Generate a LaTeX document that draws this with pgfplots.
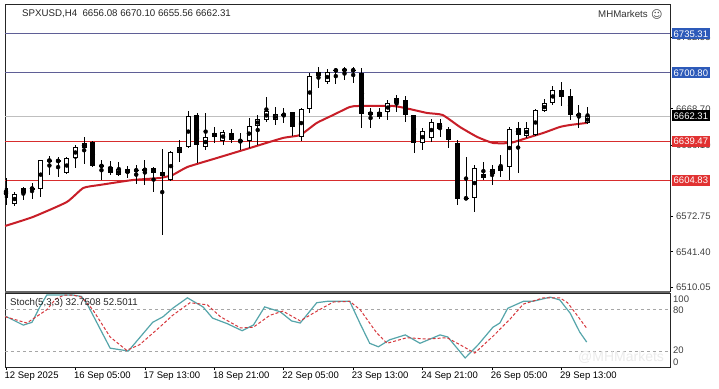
\documentclass[border=0pt]{standalone}
\usepackage{fontspec}
\setmainfont{Liberation Sans}
\newfontfamily\dejavu{DejaVu Sans}
\usepackage{pgfplots}
\usepackage{pgfplotstable}
\pgfplotsset{compat=1.18}
\definecolor{mared}{RGB}{200,30,40}
\definecolor{lvred}{RGB}{215,45,45}
\definecolor{lvblue}{RGB}{95,95,150}
\definecolor{boxblue}{RGB}{45,90,185}
\definecolor{boxred}{RGB}{225,50,50}
\definecolor{stteal}{RGB}{85,165,170}
\definecolor{stred}{RGB}{215,55,60}

\pgfplotstableread{
i o h l c
0 6598.2 6607.1 6583.1 6589.3
1 6584.0 6594.6 6582.2 6592.9
2 6593.7 6599.0 6587.5 6598.2
3 6597.3 6602.7 6588.4 6598.2
4 6597.3 6623.5 6590.2 6623.1
5 6622.2 6626.7 6609.8 6623.1
6 6622.2 6625.8 6608.0 6622.7
7 6611.6 6625.8 6610.7 6624.9
8 6624.9 6636.5 6616.0 6634.7
9 6633.8 6643.6 6620.0 6638.3
10 6639.2 6640.0 6616.9 6617.8
11 6617.8 6623.1 6605.3 6618.2
12 6616.9 6622.2 6609.8 6611.6
13 6609.8 6621.3 6608.9 6615.1
14 6615.1 6617.8 6607.1 6611.6
15 6613.8 6618.7 6601.8 6614.2
16 6614.0 6623.1 6600.9 6614.9
17 6616.0 6617.0 6594.6 6611.6
18 6612.4 6632.9 6556.4 6608.9
19 6605.3 6631.2 6604.4 6630.3
20 6629.4 6640.9 6621.3 6634.7
21 6634.7 6666.8 6633.8 6662.3
22 6663.2 6665.0 6620.5 6636.5
23 6634.7 6665.0 6632.0 6643.6
24 6643.6 6652.5 6638.3 6647.2
25 6640.0 6649.8 6636.5 6648.0
26 6647.2 6650.7 6638.3 6640.9
27 6640.5 6647.2 6632.0 6640.0
28 6640.0 6660.5 6633.8 6653.4
29 6653.4 6663.2 6636.5 6659.6
30 6658.7 6679.2 6657.0 6666.8
31 6658.7 6670.3 6654.3 6664.1
32 6663.6 6669.4 6656.1 6663.2
33 6665.9 6666.3 6644.5 6652.5
34 6643.6 6669.4 6640.0 6668.5
35 6668.5 6700.6 6665.0 6697.9
36 6697.9 6705.9 6687.2 6701.5
37 6692.6 6704.1 6690.8 6701.5
38 6702.8 6705.0 6690.8 6703.2
39 6704.1 6705.9 6694.4 6702.4
40 6703.0 6705.9 6691.7 6703.3
41 6700.6 6705.0 6651.6 6664.1
42 6663.2 6669.4 6651.6 6665.9
43 6661.4 6669.4 6659.6 6665.9
44 6665.9 6676.5 6658.7 6673.9
45 6673.9 6681.0 6665.9 6678.3
46 6676.5 6680.1 6657.0 6663.2
47 6663.2 6663.5 6629.4 6638.3
48 6638.3 6651.6 6632.0 6648.9
49 6642.7 6659.6 6639.1 6657.0
50 6656.1 6659.6 6643.6 6650.7
51 6650.7 6652.5 6633.8 6640.9
52 6638.3 6640.9 6583.1 6588.4
53 6588.8 6625.8 6587.5 6589.3
54 6589.3 6618.7 6576.8 6616.0
55 6607.1 6621.3 6605.3 6610.7
56 6610.7 6618.7 6600.9 6615.1
57 6613.3 6627.6 6608.0 6617.8
58 6616.9 6652.5 6605.3 6650.7
59 6651.6 6657.0 6611.6 6645.4
60 6644.5 6657.0 6642.7 6651.6
61 6645.4 6668.5 6644.5 6667.6
62 6666.8 6677.4 6665.9 6673.9
63 6673.9 6689.0 6672.1 6685.5
64 6685.5 6692.6 6671.2 6679.2
65 6680.1 6686.3 6658.7 6663.2
66 6663.2 6672.1 6651.6 6663.6
67 6656.08 6670.10 6655.56 6662.31
}\candles

\begin{document}
\begin{tikzpicture}
\useasboundingbox (0pt,0pt) rectangle (719pt,388pt);
\fill[white] (0pt,0pt) rectangle (719pt,388pt);

% ---------------- main price panel ----------------
\begin{axis}[
  name=main,
  at={(5pt,97pt)}, anchor=south west, scale only axis,
  width=665pt, height=287pt,
  xmin=-0.115, xmax=76.5, ymin=6506.5, ymax=6762.0,
  xtick=\empty,
  ytick={6510.05,6541.40,6572.75,6636.10,6668.70,6732.55},
  yticklabels={6510.05,6541.40,6572.75,6636.10,6668.70,6732.55},
  ytick pos=right, yticklabel pos=right,
  tick align=outside, major tick length=3pt,
  tick style={black, line width=0.6pt},
  yticklabel style={font=\fontsize{9.5}{10}\selectfont, text=black!75, inner sep=1pt, xshift=2pt},
  axis line style={black!85, line width=0.9pt},
  clip mode=individual,
]
% level lines
\addplot[lvblue, line width=1pt, forget plot] coordinates {(-0.115,6735.31) (76.5,6735.31)};
\addplot[lvblue, line width=1pt, forget plot] coordinates {(-0.115,6700.80) (76.5,6700.80)};
\addplot[black!25, line width=0.8pt, forget plot] coordinates {(-0.115,6662.31) (76.5,6662.31)};
\addplot[lvred, line width=1pt, forget plot] coordinates {(-0.115,6639.47) (76.5,6639.47)};
\addplot[lvred, line width=1pt, forget plot] coordinates {(-0.115,6604.83) (76.5,6604.83)};

% moving average
\addplot[mared, line width=2pt, smooth, tension=0.3] coordinates {
(-0.1,6564.4) (3.1,6572.4) (7.0,6585.7) (8.9,6598.2) (10.8,6600.9) (14.6,6605.3)
(17.7,6607.1) (19.2,6609.8) (20.9,6616.9) (24.3,6624.9) (28.1,6633.8) (31.9,6642.7)
(33.9,6645.4) (35.8,6656.1) (37.7,6663.2) (39.6,6670.3) (40.6,6671.2) (44.6,6671.2)
(46.5,6668.5) (48.5,6665.0) (50.3,6663.2) (52.3,6652.5) (54.3,6643.6) (56.1,6638.3)
(58.1,6638.3) (60.0,6642.7) (61.9,6647.2) (63.8,6652.5) (65.0,6654.3) (66.9,6656.1)};

% wicks
\addplot[only marks, mark=none, forget plot,
  error bars/.cd, y dir=both, y explicit, error mark=none,
  error bar style={black, line width=0.9pt}]
  table[x=i, y expr={(\thisrow{h}+\thisrow{l})/2}, y error expr={(\thisrow{h}-\thisrow{l})/2}] {\candles};
% bodies (outline / bearish fill)
\addplot[only marks, mark=none, forget plot,
  error bars/.cd, y dir=both, y explicit, error mark=none,
  error bar style={black, line width=5pt}]
  table[x=i, y expr={(\thisrow{o}+\thisrow{c})/2}, y error expr={max(abs(\thisrow{o}-\thisrow{c})/2,0.55)}] {\candles};
% bullish hollow interior
\addplot[only marks, mark=none, forget plot,
  error bars/.cd, y dir=both, y explicit, error mark=none,
  error bar style={white, line width=3pt}]
  table[x=i, y expr={(\thisrow{o}+\thisrow{c})/2}, y error expr={max((\thisrow{c}-\thisrow{o})/2-0.9,0)}] {\candles};

% price boxes
\tikzset{pbox/.style={anchor=west, inner xsep=1.5pt, inner ysep=1pt, text=white,
  font=\fontsize{9.5}{10}\selectfont, minimum height=11pt}}
\node[pbox, fill=boxblue, xshift=2pt] at (axis cs:76.5,6735.31) {6735.31};
\node[pbox, fill=boxblue, xshift=2pt] at (axis cs:76.5,6700.80) {6700.80};
\node[pbox, fill=black, xshift=2pt] at (axis cs:76.5,6662.31) {6662.31};
\node[pbox, fill=boxred, xshift=2pt] at (axis cs:76.5,6639.47) {6639.47};
\node[pbox, fill=boxred, xshift=2pt] at (axis cs:76.5,6604.83) {6604.83};
\end{axis}

% ---------------- stochastic panel ----------------
\begin{axis}[
  name=stoch,
  at={(5pt,21pt)}, anchor=south west, scale only axis,
  width=665pt, height=74pt,
  xmin=-0.115, xmax=76.5, ymin=-2.9, ymax=102.9,
  xtick={0,8,16,24,32,40,48,56,64},
  xticklabels={12 Sep 2025,16 Sep 05:00,17 Sep 13:00,18 Sep 21:00,22 Sep 05:00,23 Sep 13:00,24 Sep 21:00,26 Sep 05:00,29 Sep 13:00},
  xtick pos=bottom, ytick=\empty,
  tick align=outside, major tick length=3pt,
  tick style={black, line width=0.6pt},
  xticklabel style={font=\fontsize{9.5}{10}\selectfont, anchor=north west, inner sep=0pt, xshift=-1.5pt, yshift=-2pt},
  axis line style={black!85, line width=0.9pt},
  clip mode=individual,
]
\addplot[black!35, dashed, dash pattern=on 3pt off 3pt, line width=0.6pt, forget plot] coordinates {(-0.115,80) (76.5,80)};
\addplot[black!35, dashed, dash pattern=on 3pt off 3pt, line width=0.6pt, forget plot] coordinates {(-0.115,20) (76.5,20)};
% %K main
\addplot[stteal, line width=1.2pt] coordinates {
(-0.1,70) (2.0,57) (3.0,61) (3.9,83) (4.7,100) (5.7,100) (6.7,100) (7.7,100) (8.7,98)
(9.4,86) (12.0,24) (14.1,20) (16.9,61) (18.1,69) (19.2,81) (20.9,96) (22.7,83)
(23.8,67) (25.5,59) (27.2,49) (28.5,57) (29.8,83) (31.6,76) (32.9,63) (33.9,60)
(35.8,89) (37.0,91) (39.6,91) (40.8,59) (41.9,31) (42.9,26) (44.2,36) (46.0,43)
(47.7,31) (50.0,43) (50.9,40) (52.9,10) (54.4,29) (56.1,54) (56.9,60) (57.8,81)
(59.6,91) (60.7,91) (62.7,97) (63.8,93) (65.0,74) (66.1,47) (66.9,32.75)};
% %D signal
\addplot[stred, line width=1pt, dash pattern=on 3pt off 2pt] coordinates {
(-0.1,69) (2.4,60) (4.7,79) (5.7,94) (6.7,100) (7.7,100) (8.7,97) (10.0,79)
(12.0,40) (13.9,21) (15.4,29) (17.7,54) (19.2,71) (21.2,89) (23.2,86) (24.7,69)
(27.0,53) (28.5,54) (30.4,71) (31.9,77) (33.9,63) (35.4,74) (37.7,90) (39.6,91)
(40.8,79) (42.7,46) (43.9,31) (46.2,39) (48.5,37) (50.8,39) (52.3,29) (54.0,17)
(56.1,41) (58.1,66) (59.6,87) (61.9,96) (63.8,96) (64.7,89) (65.8,71) (66.9,52.5)};
\end{axis}

% panel separator
\draw[black!60, line width=2.2pt] (5pt,96.3pt) -- (670pt,96.3pt);

% texts
\node[anchor=west, inner sep=0pt, font=\fontsize{9.7}{10}\selectfont, text=black!85] at (22pt,374pt) {SPXUSD,H4\ \ 6656.08 6670.10 6655.56 6662.31};
\node[anchor=west, inner sep=0pt, font=\fontsize{9.7}{10}\selectfont, text=black!80] at (598pt,374pt) {MHMarkets};
\node[anchor=west, inner sep=0pt, font=\dejavu\fontsize{11}{11}\selectfont, text=black!70] at (651pt,374pt) {☺};
\node[anchor=west, inner sep=0pt, font=\fontsize{9.7}{10}\selectfont, text=black!85] at (10pt,85pt) {Stoch(5,3,3) 32.7508 52.5011};
\node[anchor=west, inner sep=0pt, text=black!8, font=\fontsize{14}{14}\selectfont] at (578pt,31pt) {@MHMarkets};
\node[anchor=west, inner sep=0pt, font=\fontsize{9.5}{10}\selectfont, text=black!75] at (673pt,89pt) {100};
\node[anchor=west, inner sep=0pt, font=\fontsize{9.5}{10}\selectfont, text=black!75] at (673pt,78pt) {80};
\node[anchor=west, inner sep=0pt, font=\fontsize{9.5}{10}\selectfont, text=black!75] at (673pt,38pt) {20};
\node[anchor=west, inner sep=0pt, font=\fontsize{9.5}{10}\selectfont, text=black!75] at (673pt,26pt) {0};
\end{tikzpicture}
\end{document}
